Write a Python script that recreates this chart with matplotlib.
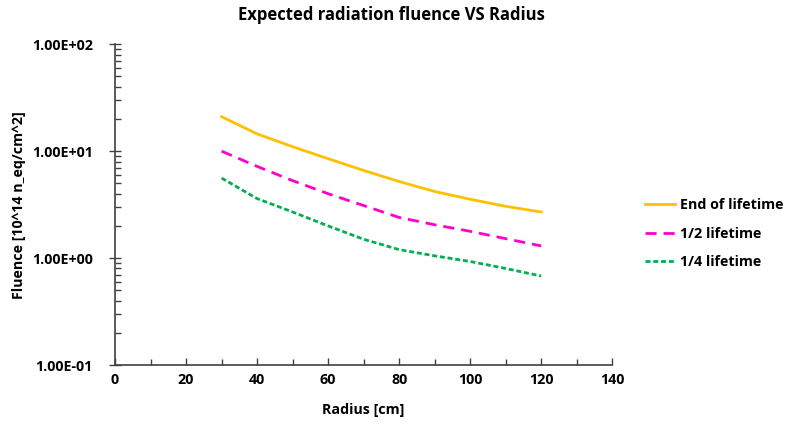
import matplotlib.pyplot as plt
import numpy as np
from matplotlib.ticker import FuncFormatter, MultipleLocator, LogLocator, NullFormatter

plt.rcParams['font.family'] = ['Open Sans', 'DejaVu Sans']
plt.rcParams['font.weight'] = 'bold'

radius = [30, 40, 50, 60, 70, 80, 90, 100, 110, 120]
end_of_life = [21.0, 14.5, 11.0, 8.5, 6.6, 5.2, 4.2, 3.55, 3.05, 2.7]
half_life = [10.0, 7.2, 5.3, 4.0, 3.1, 2.4, 2.05, 1.78, 1.52, 1.3]
quarter_life = [5.6, 3.6, 2.7, 2.0, 1.5, 1.2, 1.05, 0.93, 0.8, 0.68]

fig = plt.figure(figsize=(7.88, 4.25), dpi=100)
ax = fig.add_axes([0.146, 0.141, 0.631, 0.755])

ax.plot(radius, end_of_life, color='#FFC000', lw=2.0, label='End of lifetime')
ax.plot(radius, half_life, color='#FF00CC', lw=2.0, dashes=(4, 2.5),
        label='1/2 lifetime')
ax.plot(radius, quarter_life, color='#00B050', lw=2.0, dashes=(1.8, 1.0),
        label='1/4 lifetime')

ax.set_yscale('log')
ax.set_xlim(0, 140)
ax.set_ylim(0.1, 100)

ax.xaxis.set_major_locator(MultipleLocator(20))
ax.xaxis.set_minor_locator(MultipleLocator(10))
ax.yaxis.set_major_locator(LogLocator(base=10))
ax.yaxis.set_minor_locator(LogLocator(base=10, subs=np.arange(2, 10)))
ax.yaxis.set_minor_formatter(NullFormatter())
ax.yaxis.set_major_formatter(FuncFormatter(lambda v, p: f'{v:.2E}'))

for side in ('top', 'right'):
    ax.spines[side].set_visible(False)
for side in ('left', 'bottom'):
    ax.spines[side].set_color('#404040')
    ax.spines[side].set_linewidth(1.2)

ax.tick_params(which='major', direction='in', length=5, width=1, color='#404040',
               labelsize=10.3, pad=6)
ax.tick_params(which='minor', direction='in', length=4, width=1, color='#404040')
ax.tick_params(axis='y', which='major', direction='inout', length=8, pad=12)

ax.set_xlabel('Radius [cm]', fontsize=10.3, fontweight='bold', labelpad=11)
ax.set_ylabel('Fluence [10^14 n_eq/cm^2]', fontsize=10.3, fontweight='bold', labelpad=4)
fig.suptitle('Expected radiation fluence VS Radius', fontsize=12, fontweight='bold',
             x=0.497, y=0.985)

ax.legend(loc='center left', bbox_to_anchor=(1.04, 0.41), frameon=False,
          prop={'size': 10.3, 'weight': 'bold'}, handlelength=2.1,
          handletextpad=0.35, labelspacing=1.0)

fig.savefig('out.png', dpi=100)
